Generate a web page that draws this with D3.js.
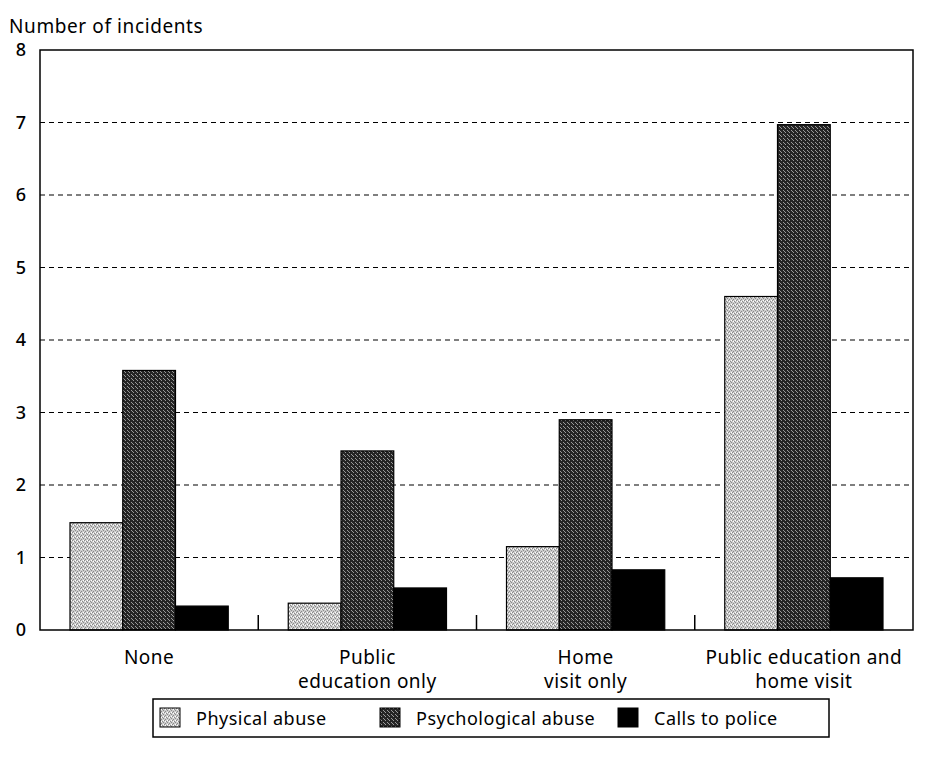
<!DOCTYPE html>
<html><head><meta charset="utf-8">
<script src="https://cdn.jsdelivr.net/npm/d3@7"></script>
<style>body{margin:0;background:#fff}text{font-family:"Noto Sans","Open Sans",sans-serif;fill:#000}</style>
</head><body><svg id="c" width="935" height="766"></svg>
<script>
const categories = [["None"],["Public","education only"],["Home","visit only"],["Public education and","home visit"]];
const catKeys = ["None","Public education only","Home visit only","Public education and home visit"];
const seriesNames = ["Physical abuse","Psychological abuse","Calls to police"];
const physical = [1.48, 0.37, 1.15, 4.6];
const psychological = [3.58, 2.47, 2.9, 6.97];
const police = [0.33, 0.58, 0.83, 0.72];
const yTicks = [0,1,2,3,4,5,6,7,8];
const yTitle = "Number of incidents";

const svg = d3.select("#c");
const defs = svg.append("defs");
function pat(id, base, dots, dotColor){
  const p = defs.append("pattern").attr("id",id).attr("patternUnits","userSpaceOnUse").attr("width",4).attr("height",4);
  p.append("rect").attr("width",4).attr("height",4).attr("fill",base);
  dots.forEach(([x,y])=>p.append("rect").attr("x",x).attr("y",y).attr("width",1).attr("height",1).attr("fill",dotColor));
  return p;
}
const pp = pat("pPhys","#cdcdcd",[[0,0],[2,1],[1,3],[3,2]],"#8a8a8a");
pp.append("rect").attr("x",1).attr("y",1).attr("width",1).attr("height",1).attr("fill","#fff");
pp.append("rect").attr("x",3).attr("y",0).attr("width",1).attr("height",1).attr("fill","#fff");
pat("pPsy","#252525",[[1,0],[3,2],[0,3]],"#9a9a9a");
const fills = ["url(#pPhys)","url(#pPsy)","#000"];

const L=40,R=913,T=50,B=630;
const x0 = d3.scaleBand().domain(catKeys).range([L,R]);
const x1 = d3.scaleBand().domain(seriesNames).range([30, x0.bandwidth()-30]);
const y = d3.scaleLinear().domain([0,8]).range([B,T]);

// gridlines
svg.append("g").selectAll("line").data(yTicks.filter(t=>t>0&&t<8)).join("line")
  .attr("x1",L).attr("x2",R).attr("y1",d=>y(d)).attr("y2",d=>y(d))
  .attr("stroke","#000").attr("stroke-width",1.2).attr("stroke-dasharray","5,4");

// bars
const data = [physical, psychological, police];
const g = svg.append("g");
seriesNames.forEach((s,si)=>{
  g.selectAll(null).data(catKeys).join("rect")
    .attr("x",c=>x0(c)+x1(s)).attr("width",x1.bandwidth())
    .attr("y",(c,i)=>y(data[si][i])).attr("height",(c,i)=>B-y(data[si][i]))
    .attr("fill",fills[si]).attr("stroke","#000").attr("stroke-width",1.2);
});

// frame
svg.append("rect").attr("x",L).attr("y",T).attr("width",R-L).attr("height",B-T)
  .attr("fill","none").attr("stroke","#000").attr("stroke-width",1.5);

// left axis
const yAxis = d3.axisLeft(y).tickValues(yTicks).tickSize(0).tickPadding(14).tickFormat(d3.format("d"));
const ya = svg.append("g").attr("transform",`translate(${L},0)`).call(yAxis);
ya.attr("font-size",null).attr("font-family",null);
ya.select(".domain").remove();
ya.selectAll("text").style("font-size","18px").style("font-family",'"Noto Sans",sans-serif').style("font-weight","500").attr("fill","#000");

// bottom ticks between groups
svg.append("g").selectAll("line").data(catKeys.slice(1)).join("line")
  .attr("x1",c=>x0(c)).attr("x2",c=>x0(c)).attr("y1",B).attr("y2",B-15)
  .attr("stroke","#000").attr("stroke-width",1.5);

// x labels
const xl = svg.append("g");
catKeys.forEach((c,i)=>{
  const t = xl.append("text").attr("x",x0(c)+x0.bandwidth()/2).attr("y",664)
    .attr("text-anchor","middle").attr("font-size",19).attr("letter-spacing",0.5);
  categories[i].forEach((line,j)=>t.append("tspan").attr("x",x0(c)+x0.bandwidth()/2).attr("dy",j?24:0).text(line));
});

svg.append("text").attr("x",9).attr("y",33).attr("font-size",19).attr("letter-spacing",0.6).text(yTitle);

// legend
const lg = svg.append("g");
lg.append("rect").attr("x",153).attr("y",699).attr("width",676).attr("height",38)
  .attr("fill","none").attr("stroke","#000").attr("stroke-width",1.5);
const lx = [160,380,618];
seriesNames.forEach((s,i)=>{
  lg.append("rect").attr("x",lx[i]).attr("y",708).attr("width",20).attr("height",19)
    .attr("fill",fills[i]).attr("stroke","#000").attr("stroke-width",1);
  lg.append("text").attr("x",lx[i]+36).attr("y",725).attr("font-size",18).attr("letter-spacing",0.5).text(s);
});
</script></body></html>
